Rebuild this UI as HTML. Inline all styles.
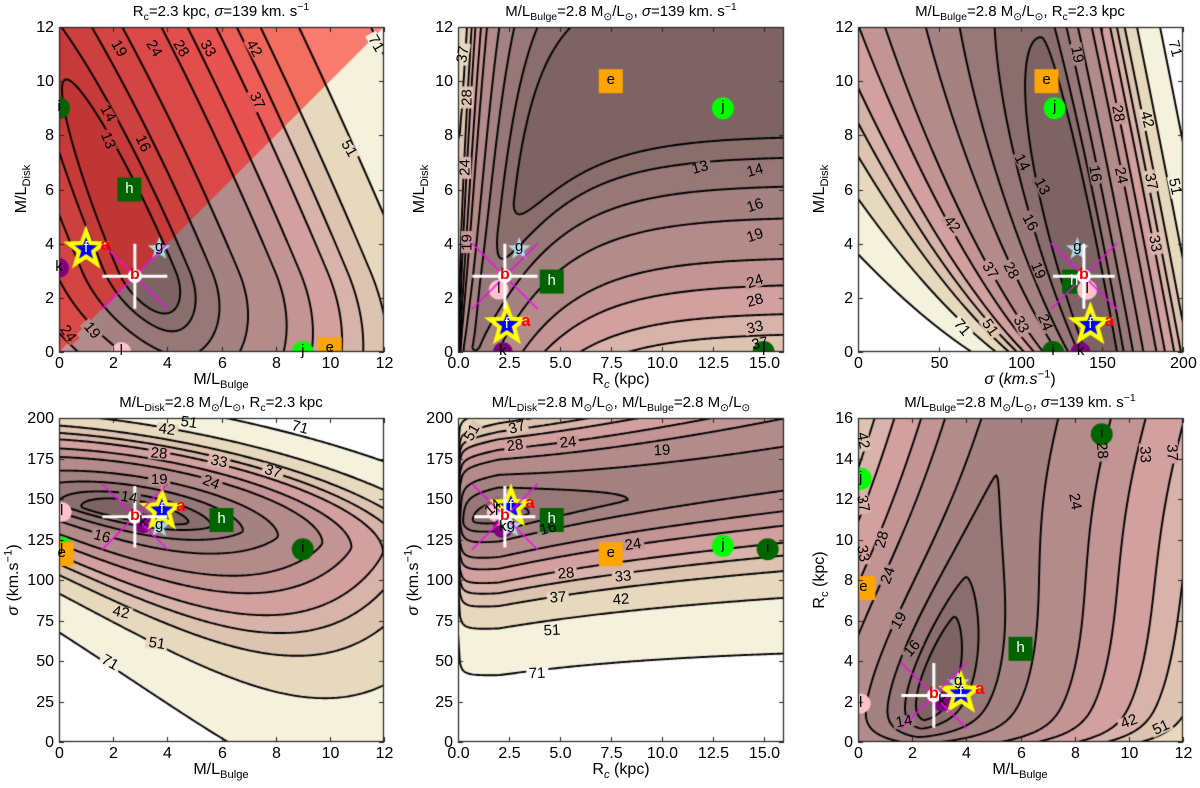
<!DOCTYPE html>
<html><head><meta charset="utf-8">
<style>
html,body{margin:0;padding:0;background:#fff;}
#wrap{position:relative;width:1200px;height:788px;overflow:hidden;font-family:"Liberation Sans","DejaVu Sans",sans-serif;color:#000;}
canvas{position:absolute;left:0;top:0;}
.t{position:absolute;white-space:nowrap;font-size:14px;line-height:1;}
.title{transform:translateX(-50%);font-size:15px;}
.xl{transform:translateX(-50%);font-size:16px;}
.yl{transform:translate(-50%,-50%) rotate(-90deg);font-size:16px;}
.tk{font-size:16px;}
.cl{font-size:15px;transform-origin:center center;}
.ml{font-size:15px;}
sub,sup{font-size:70%;line-height:0;}
</style></head>
<body>
<div id="wrap">
<canvas id="cv" width="1200" height="788"></canvas>
<div class="t title" style="left:221px;top:4px">R<sub>c</sub>=2.3 kpc, <i>σ</i>=139 km. s<sup>−1</sup></div>
<div class="t title" style="left:621px;top:4px">M/L<sub>Bulge</sub>=2.8 M<sub>⊙</sub>/L<sub>⊙</sub>, <i>σ</i>=139 km. s<sup>−1</sup></div>
<div class="t title" style="left:1020px;top:4px">M/L<sub>Bulge</sub>=2.8 M<sub>⊙</sub>/L<sub>⊙</sub>,  R<sub>c</sub>=2.3 kpc</div>
<div class="t title" style="left:221px;top:395px">M/L<sub>Disk</sub>=2.8 M<sub>⊙</sub>/L<sub>⊙</sub>,  R<sub>c</sub>=2.3 kpc</div>
<div class="t title" style="left:621px;top:395px">M/L<sub>Disk</sub>=2.8 M<sub>⊙</sub>/L<sub>⊙</sub>,  M/L<sub>Bulge</sub>=2.8 M<sub>⊙</sub>/L<sub>⊙</sub></div>
<div class="t title" style="left:1020px;top:395px">M/L<sub>Bulge</sub>=2.8 M<sub>⊙</sub>/L<sub>⊙</sub>, <i>σ</i>=139 km. s<sup>−1</sup></div>

<div class="t xl" style="left:221px;top:372px">M/L<sub>Bulge</sub></div>
<div class="t xl" style="left:621px;top:372px">R<sub><i>c</i></sub> (kpc)</div>
<div class="t xl" style="left:1020px;top:372px"><i>σ</i> (<i>km.s</i><sup>−1</sup>)</div>
<div class="t xl" style="left:221px;top:762px">M/L<sub>Bulge</sub></div>
<div class="t xl" style="left:621px;top:762px">R<sub><i>c</i></sub> (kpc)</div>
<div class="t xl" style="left:1020px;top:762px">M/L<sub>Bulge</sub></div>

<div class="t yl" style="left:22px;top:189px">M/L<sub>Disk</sub></div>
<div class="t yl" style="left:420px;top:189px">M/L<sub>Disk</sub></div>
<div class="t yl" style="left:820px;top:189px">M/L<sub>Disk</sub></div>
<div class="t yl" style="left:14px;top:580px"><i>σ</i> (km.s<sup>−1</sup>)</div>
<div class="t yl" style="left:414px;top:580px"><i>σ</i> (km.s<sup>−1</sup>)</div>
<div class="t yl" style="left:820px;top:580px">R<sub>c</sub> (kpc)</div>
</div>
<script>
const LEVELS=[13,14,16,19,24,28,33,37,42,51,71];
const BAND_COLORS=['#7d6363','#8a6e6e','#977777','#a48282','#b48b8b','#c39494','#d2a09f','#d8b3a9','#ddc4b1','#e7d9bd','#f4f1dd','#ffffff'];

const TICKS_ML=[0,2,4,6,8,10,12];
const TICKS_RC=[0,2.5,5,7.5,10,12.5,15];
const TICKS_SIG_X=[0,50,100,150,200];
const TICKS_SIG_Y=[0,25,50,75,100,125,150,175,200];
const TICKS_RC_Y=[0,2,4,6,8,10,12,14,16];

// contour label placements: [level, x, y, angle]
const LABELS_1=[[19,2.2,11.2,60],[24,3.5,11.2,60],[28,4.5,11.2,60],[33,5.5,11.2,60],[42,7.2,11.2,60],[71,11.7,11.4,60],[37,7.3,9.3,65],[51,10.7,7.5,60],[14,1.8,8.8,60],[13,1.8,7.8,68],[16,3.1,7.7,65],[24,0.35,0.7,55],[19,1.2,0.8,50]];
const LABELS_2=[[13,11.9,6.8,-15],[14,14.6,6.7,-15],[16,14.6,5.4,-18],[19,14.6,4.3,-18],[24,14.6,2.6,-18],[28,14.6,1.9,-16],[33,14.6,0.9,-14],[37,14.8,0.3,-12],[19,0.44,4.06,-90],[24,0.35,6.8,-90],[28,0.44,9.4,-90],[37,0.25,11,-80]];
const LABELS_3=[[19,135,11,80],[28,160,8.8,80],[42,178,8.6,75],[71,195,11.2,75],[14,101,7,62],[13,113,6.1,62],[16,146,6.6,80],[24,162,6.5,78],[37,180,6.3,78],[51,195,6.1,78],[16,106,4.8,62],[42,58,4.7,50],[37,81,3,58],[28,94,3,62],[19,111,3,68],[33,183,4,80],[71,64,0.9,50],[51,81,0.9,55],[33,100,1,62],[24,115,1.1,68]];
const LABELS_4=[[51,4.8,197,8],[71,8.9,194,15],[42,4,193,8],[28,3.7,178,5],[33,5.9,173,12],[37,7.9,167,18],[19,3.7,162,0],[24,5.6,160,22],[14,2.6,151,10],[16,1.6,127,15],[42,2.3,80,12],[51,3.6,61,8],[71,1.9,49,30]];
const LABELS_5=[[37,2.9,194,-15],[51,0.7,191,-60],[28,2.8,183,-8],[24,5.4,185,-5],[19,10,180,-3],[14,1.7,145,-40],[16,4.4,132,-15],[24,8.6,122,-8],[28,5.3,104,-5],[33,8.1,102,-5],[37,4.9,89,-4],[42,8,88,-4],[51,4.6,69,-3],[71,3.9,42,-2]];
const LABELS_6=[[42,0.2,14.9,80],[37,0.2,11.8,80],[33,0.2,9.3,80],[28,0.9,10,-75],[24,1.1,8.2,-70],[19,1.5,6,-60],[16,2,4.6,-50],[14,1.7,1,-10],[24,8,11.9,80],[28,9,14.4,85],[33,10.6,14.2,88],[37,11.6,14.3,88],[42,10,1,-20],[51,11.2,0.7,-25]];

// markers: id, x, y
const MARK_1=[{id:'l',x:2.3,y:0},{id:'j',x:9,y:0},{id:'e',x:10,y:0.1},{id:'i',x:0,y:9},{id:'k',x:0,y:3.1},{id:'h',x:2.6,y:6},{id:'g',x:3.7,y:3.8},{id:'f',x:1,y:3.8},{id:'b',x:2.8,y:2.8,xe:1.2,ye:1.2}];
const MARK_2=[{id:'e',x:7.5,y:10},{id:'j',x:13,y:9},{id:'i',x:15,y:0},{id:'k',x:2.2,y:0},{id:'l',x:2,y:2.3},{id:'h',x:4.6,y:2.6},{id:'g',x:3,y:3.8},{id:'f',x:2.4,y:1},{id:'b',x:2.3,y:2.8,xe:1.6,ye:1.2}];
const MARK_3=[{id:'e',x:116,y:10},{id:'j',x:121,y:9},{id:'i',x:120,y:0},{id:'k',x:137,y:0},{id:'h',x:133,y:2.6},{id:'l',x:141,y:2.3},{id:'g',x:135,y:3.8},{id:'f',x:143,y:1},{id:'b',x:139,y:2.8,xe:19,ye:1.2}];
const MARK_4=[{id:'l',x:0.1,y:142},{id:'j',x:0.1,y:120},{id:'e',x:0.1,y:116},{id:'i',x:9,y:119},{id:'h',x:6,y:137},{id:'k',x:3.1,y:135},{id:'g',x:3.7,y:133},{id:'f',x:3.8,y:143},{id:'b',x:2.8,y:139,xe:1.2,ye:19}];
const MARK_5=[{id:'e',x:7.5,y:116},{id:'j',x:13,y:121},{id:'i',x:15.2,y:119},{id:'h',x:4.6,y:137},{id:'l',x:1.9,y:142},{id:'k',x:2.2,y:132},{id:'g',x:2.6,y:133},{id:'f',x:2.6,y:145},{id:'b',x:2.3,y:139,xe:1.5,ye:19}];
const MARK_6=[{id:'l',x:0.1,y:1.9},{id:'e',x:0.2,y:7.6},{id:'j',x:0.1,y:13},{id:'i',x:9,y:15.2},{id:'h',x:6,y:4.6},{id:'k',x:3.1,y:2},{id:'g',x:3.7,y:2.9},{id:'f',x:3.8,y:2.4},{id:'b',x:2.8,y:2.3,xe:1.2,ye:1.6}];

function f1(x,y){const xv=4.5-0.42*y,d=x-xv;const g=y<3?0.4*(3-y)**2:0.02*(y-3)**2;return 12+1.5*(Math.sqrt(d*d+1)-1)+0.28*d*d+g;}
function f2(x,y){x=Math.max(x,0.03);const yc=9.5*(1-Math.exp(-x/3.2));const dd=yc-y;const F=dd>0?0.3*dd*dd+0.2*dd:0.05*dd*dd;const c=Math.max(4,14+2.6*(y-4));const Gv=c*Math.exp(-x/1.2)/Math.pow(x,0.6);return 12+F+27*Math.tanh(Gv/27);}
function f3(s,y){const sv=150-3.2*y,d=s-sv;const c=d<0?0.0092/(1+0.55*y):0.0105;return 12+c*d*d+0.012*(y-2.5)**2;}
function f4(x,s){const u=x-2.8,sc=140-2.5*u,v=s-sc;const k=0.30*Math.exp(-0.1*x);return 12+0.25*u*u+(v>0?0.012*v*v:k*Math.pow(-v,1.2));}
function f5(x,s){x=Math.max(x,0.02);const sc=135+1.7*x,v=s-sc;const bu=0.009-0.00025*x,k=0.245-0.003*x;const g=x>2?5*(1-Math.exp(-(x-2)/5)):0;return 12+(v>0?bu*v*v:k*Math.pow(-v,1.2))+g+1.6/Math.pow(x,0.65);}
function f6(x,y){const xc=2.2+0.22*y,d=x-xc;const side=d>0?1.25*Math.pow(d,1.4):2.1*Math.pow(-d,1.4);const h=y>2.5?4.6*(1-Math.exp(-(((y-2.5)/7.5)**2))):0;return 12+side+6*Math.exp(-y/0.6)+h;}

const fmt0=v=>String(v), fmt1=v=>v.toFixed(1);
const PANELS=[
 {n:1,box:[59,27,325,325],xr:[0,12],yr:[0,12],f:f1,xt:TICKS_ML,xf:fmt0,yt:TICKS_ML,yf:fmt0,lab:LABELS_1,mk:MARK_1,overlay:true},
 {n:2,box:[458,27,326,325],xr:[0,16],yr:[0,12],f:f2,xt:TICKS_RC,xf:fmt1,yt:TICKS_ML,yf:fmt0,lab:LABELS_2,mk:MARK_2},
 {n:3,box:[858,27,325,325],xr:[0,200],yr:[0,12],f:f3,xt:TICKS_SIG_X,xf:fmt0,yt:TICKS_ML,yf:fmt0,lab:LABELS_3,mk:MARK_3},
 {n:4,box:[59,418,325,324],xr:[0,12],yr:[0,200],f:f4,xt:TICKS_ML,xf:fmt0,yt:TICKS_SIG_Y,yf:fmt0,lab:LABELS_4,mk:MARK_4},
 {n:5,box:[458,418,326,324],xr:[0,16],yr:[0,200],f:f5,xt:TICKS_RC,xf:fmt1,yt:TICKS_SIG_Y,yf:fmt0,lab:LABELS_5,mk:MARK_5},
 {n:6,box:[858,418,325,324],xr:[0,12],yr:[0,16],f:f6,xt:TICKS_ML,xf:fmt0,yt:TICKS_RC_Y,yf:fmt0,lab:LABELS_6,mk:MARK_6}
];
const RED=[253,14,10],RA=0.52;
const wrap=document.getElementById('wrap');
const cv=document.getElementById('cv');const ctx=cv.getContext('2d');
function hex(h){return [parseInt(h.substr(1,2),16),parseInt(h.substr(3,2),16),parseInt(h.substr(5,2),16)];}
const BAND_RGB=BAND_COLORS.map(hex);
function band(v){let b=0;while(b<LEVELS.length&&v>=LEVELS[b])b++;return b;}
function addDiv(cls,txt,x,y,style){const d=document.createElement('div');d.className='t '+cls;d.textContent=txt;d.style.left=x+'px';d.style.top=y+'px';if(style)d.style.cssText+=style;wrap.appendChild(d);return d;}

function starPath(cx,cy,ro,ri){ctx.beginPath();for(let k=0;k<10;k++){const r=k%2?ri:ro;const a=-Math.PI/2+k*Math.PI/5;const px=cx+r*Math.cos(a),py=cy+r*Math.sin(a);k?ctx.lineTo(px,py):ctx.moveTo(px,py);}ctx.closePath();}

PANELS.forEach(P=>{
 const [bx,by,W,H]=P.box;
 const X=v=>bx+(v-P.xr[0])/(P.xr[1]-P.xr[0])*W;
 const Y=v=>by+H-(v-P.yr[0])/(P.yr[1]-P.yr[0])*H;
 const dx=px=>P.xr[0]+px/W*(P.xr[1]-P.xr[0]);
 const dy=py=>P.yr[1]-py/H*(P.yr[1]-P.yr[0]);
 const inRed=(x,y)=>P.overlay&&y>x;
 const img=ctx.createImageData(W,H);
 for(let j=0;j<H;j++){const yv=dy(j+0.5);for(let i=0;i<W;i++){const c=BAND_RGB[band(P.f(dx(i+0.5),yv))];const o=(j*W+i)*4;img.data[o]=c[0];img.data[o+1]=c[1];img.data[o+2]=c[2];img.data[o+3]=255;}}
 ctx.putImageData(img,bx,by);
 ctx.save();ctx.beginPath();ctx.rect(bx,by,W,H);ctx.clip();
 if(P.overlay){ctx.fillStyle=`rgba(${RED[0]},${RED[1]},${RED[2]},${RA})`;ctx.beginPath();ctx.moveTo(X(0),Y(0));ctx.lineTo(X(0),Y(12));ctx.lineTo(X(12),Y(12));ctx.closePath();ctx.fill();}
 const st=2,nx=Math.ceil(W/st)+1,ny=Math.ceil(H/st)+1;const G=[];
 for(let j=0;j<ny;j++){const r=[];const py=Math.min(j*st,H);for(let i=0;i<nx;i++){r.push(P.f(dx(Math.min(i*st,W)),dy(py)));}G.push(r);}
 const gx=i=>bx+Math.min(i*st,W),gy=j=>by+Math.min(j*st,H);
 ctx.strokeStyle='#000';ctx.lineWidth=1.9;ctx.lineJoin='round';
 LEVELS.forEach(L=>{ctx.beginPath();
  for(let j=0;j<ny-1;j++)for(let i=0;i<nx-1;i++){
   const a=G[j][i],b=G[j][i+1],c=G[j+1][i+1],d=G[j+1][i];const pts=[];
   const e=(v1,v2,x1,y1,x2,y2)=>{if((v1<L)!==(v2<L)){const t=(L-v1)/(v2-v1);pts.push([x1+(x2-x1)*t,y1+(y2-y1)*t]);}};
   e(a,b,gx(i),gy(j),gx(i+1),gy(j));e(b,c,gx(i+1),gy(j),gx(i+1),gy(j+1));e(d,c,gx(i),gy(j+1),gx(i+1),gy(j+1));e(a,d,gx(i),gy(j),gx(i),gy(j+1));
   for(let k=0;k+1<pts.length;k+=2){ctx.moveTo(pts[k][0],pts[k][1]);ctx.lineTo(pts[k+1][0],pts[k+1][1]);}
  }ctx.stroke();});
 P.lab.forEach(l=>{const px=X(l[1]),py=Y(l[2]);let c=BAND_RGB[band(P.f(l[1],l[2]))].slice();
  if(inRed(l[1],l[2]))c=c.map((v,k)=>Math.round(RA*RED[k]+(1-RA)*v));
  ctx.save();ctx.translate(px,py);ctx.rotate(l[3]*Math.PI/180);ctx.fillStyle=`rgb(${c})`;ctx.fillRect(-11,-6,22,12);ctx.restore();
  const d=addDiv('cl',String(l[0]),px-11,py-7.5,`width:22px;text-align:center;transform:rotate(${l[3]}deg);`);
  
  
 });
 const letter=(m,txt,col,ox,oy,extra)=>{const d=addDiv('ml',txt,X(m.x)-8+(ox||0),Y(m.y)-8+(oy||0),`width:16px;text-align:center;color:${col};${extra||''}`);
  
  };
 P.mk.forEach(m=>{const px=X(m.x),py=Y(m.y);
  if(m.id==='e'||m.id==='h'){ctx.fillStyle=m.id==='e'?'#ffa500':'#006400';ctx.fillRect(px-12,py-12,24,24);letter(m,m.id,m.id==='e'?'#000':'#fff',0,-1);}
  else if('ijkl'.includes(m.id)){ctx.fillStyle={i:'#006400',j:'#00ff00',k:'#800080',l:'#ffc0cb'}[m.id];ctx.beginPath();ctx.arc(px,py,m.id==='k'||m.id==='l'?10:11,0,7);ctx.fill();letter(m,m.id,'#000',0,-1);}
  else if(m.id==='g'){ctx.fillStyle='#add8e6';starPath(px,py,12,5);ctx.fill();letter(m,'g','#000',0,-2);}
  else if(m.id==='f'){ctx.fillStyle='#ffff00';starPath(px,py,24,10);ctx.fill();ctx.fillStyle='#0000ff';starPath(px,py,12,5);ctx.fill();letter(m,'f','#fff',0,-1);letter(m,'a','#ff0000',19,-5,'font-weight:bold;font-size:17px;');}
  else if(m.id==='b'){ctx.strokeStyle='#ff00ff';ctx.lineWidth=1.3;ctx.beginPath();ctx.moveTo(px-33,py-33);ctx.lineTo(px+33,py+33);ctx.moveTo(px-33,py+33);ctx.lineTo(px+33,py-33);ctx.stroke();
   ctx.strokeStyle='#fff';ctx.lineWidth=3;ctx.beginPath();ctx.moveTo(X(m.x-m.xe),py);ctx.lineTo(X(m.x+m.xe),py);ctx.moveTo(px,Y(m.y-m.ye));ctx.lineTo(px,Y(m.y+m.ye));ctx.stroke();
   ctx.fillStyle='#fff';ctx.beginPath();ctx.arc(px,py,7,0,7);ctx.fill();letter(m,'b','#ff0000',0,-1,'font-weight:bold;font-size:16px;');}
 });
 ctx.restore();
 ctx.strokeStyle='#222';ctx.lineWidth=1.2;ctx.strokeRect(bx+0.5,by+0.5,W-1,H-1);
 ctx.lineWidth=1;ctx.beginPath();
 P.xt.forEach(v=>{const px=Math.round(X(v))+0.5;ctx.moveTo(px,by+H);ctx.lineTo(px,by+H-5);ctx.moveTo(px,by);ctx.lineTo(px,by+5);
  const d=addDiv('tk',P.xf(v),px-25,by+H+4,'width:50px;text-align:center;');
  
  });
 P.yt.forEach(v=>{const py=Math.round(Y(v))+0.5;ctx.moveTo(bx,py);ctx.lineTo(bx+5,py);ctx.moveTo(bx+W,py);ctx.lineTo(bx+W-5,py);
  const d=addDiv('tk',P.yf(v),bx-55,py-8,'width:50px;text-align:right;');
  
  });
 ctx.stroke();
});
</script>
</body></html>
